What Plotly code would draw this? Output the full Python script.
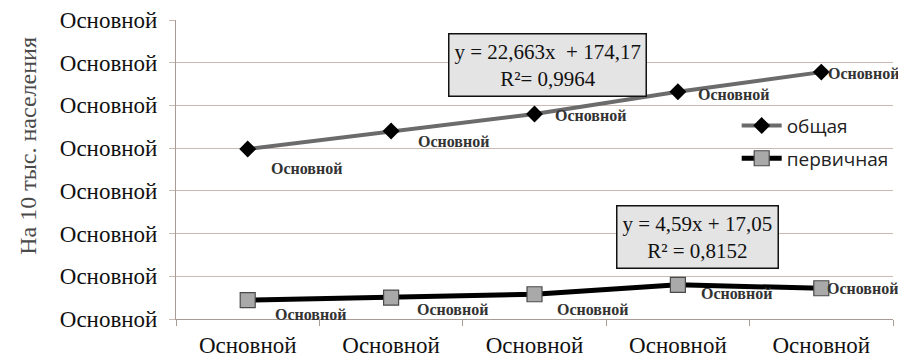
import plotly.graph_objects as go

categories = ["Основной", "Основной", "Основной", "Основной", "Основной"]
y_tick_values = [0, 50, 100, 150, 200, 250, 300, 350]
y_tick_labels = ["Основной"] * 8
obshaya = [199, 220, 240, 266, 289]
pervichnaya = [22, 25, 29, 40, 36]
point_labels = ["Основной"] * 5
series_names = ["общая", "первичная"]
trend_texts = ["y = 22,663x  + 174,17<br>R²= 0,9964", "y = 4,59x + 17,05<br>R² = 0,8152"]
y_title = "На 10 тыс. населения"

x = list(range(len(categories)))

GRID = "#cbb9b3"
SERIF = "Liberation Serif, Times New Roman, serif"

fig = go.Figure()
fig.add_trace(go.Scatter(
    x=x, y=obshaya, name=series_names[0], mode="lines+markers", legendgroup="a",
    line=dict(color="#6b6b6b", width=4),
    marker=dict(symbol="diamond", size=13, color="#000000", line=dict(width=0)),
    cliponaxis=False,
))
fig.add_trace(go.Scatter(
    x=x, y=pervichnaya, name=series_names[1], mode="lines+markers", legendgroup="b",
    line=dict(color="#000000", width=5),
    marker=dict(symbol="square", size=15, color="#a9a9a9", line=dict(width=1.2, color="#4a4a4a")),
    cliponaxis=False,
))

# data labels
shifts_obsh = [(59, -19), (62, -10), (56, -2), (56, -3), (42, -1)]
shifts_perv = [(63, -14), (61, -12), (58, -15), (59, -9), (41, 0)]
for xi, yi, lab, (dx, dy) in zip(x, obshaya, point_labels, shifts_obsh):
    fig.add_annotation(x=xi, y=yi, text=lab, showarrow=False, xshift=dx, yshift=dy,
                       font=dict(family=SERIF, size=16, color="#333333", weight="bold"))
for xi, yi, lab, (dx, dy) in zip(x, pervichnaya, point_labels, shifts_perv):
    fig.add_annotation(x=xi, y=yi, text=lab, showarrow=False, xshift=dx, yshift=dy,
                       font=dict(family=SERIF, size=16, color="#333333", weight="bold"))

# trend boxes
fig.add_annotation(x=2.094, y=297, text=trend_texts[0], showarrow=False,
                   font=dict(family=SERIF, size=21, color="#111111"),
                   bgcolor="#e4e4e4", bordercolor="#111111", borderwidth=1.5, borderpad=5)
fig.add_annotation(x=3.14, y=96, text=trend_texts[1], showarrow=False,
                   font=dict(family=SERIF, size=21, color="#111111"),
                   bgcolor="#e4e4e4", bordercolor="#111111", borderwidth=1.5, borderpad=5)

# y title
fig.add_annotation(xref="paper", yref="paper", x=-0.2066, y=0.579, text=y_title,
                   textangle=-90, showarrow=False, xanchor="center", yanchor="middle",
                   font=dict(family=SERIF, size=24, color="#4a4a4a"))

# page body has an 8px default margin: figure is 898x350 placed at (8, 8)
fig.update_layout(
    width=898, height=350,
    margin=dict(l=168, r=13, t=12, b=39),
    paper_bgcolor="white", plot_bgcolor="white",
    showlegend=True,
    legend=dict(x=0.782, y=0.71, xanchor="left", yanchor="top",
                font=dict(family="Open Sans, DejaVu Sans, sans-serif", size=19, color="#222222"),
                bgcolor="rgba(0,0,0,0)", itemwidth=40, tracegroupgap=5, traceorder="grouped"),
    xaxis=dict(range=[-0.5, 4.5], tickvals=x, ticktext=categories, automargin=False,
               showgrid=False, zeroline=False, showline=True, linecolor="#a89a95", linewidth=1,
               ticks="", ticklabelstandoff=5,
               minor=dict(tick0=-0.5, dtick=1, ticks="outside", ticklen=6, tickcolor="#a89a95"),
               tickfont=dict(family=SERIF, size=23, color="#111111")),
    yaxis=dict(range=[0, 350], tickvals=y_tick_values, ticktext=y_tick_labels, automargin=False,
               showgrid=True, gridcolor=GRID, gridwidth=1.2, zeroline=False,
               showline=True, linecolor="#a89a95", linewidth=1,
               ticks="outside", ticklen=6, tickcolor=GRID, ticklabelstandoff=7,
               tickfont=dict(family=SERIF, size=23, color="#111111")),
)

fig.write_html("out.html")
